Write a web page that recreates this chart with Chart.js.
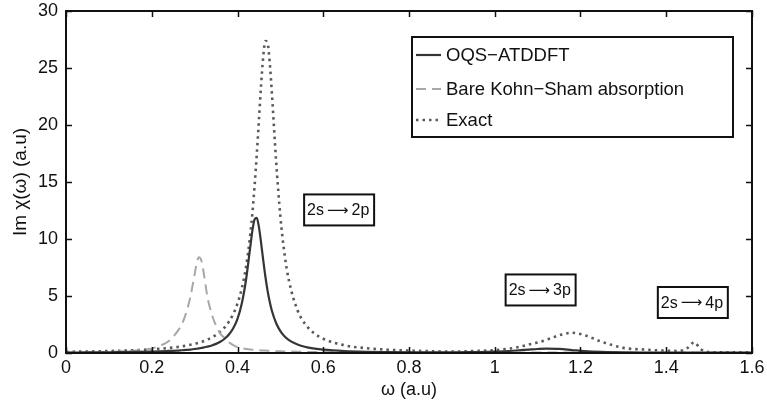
<!DOCTYPE html>
<html>
<head>
<meta charset="utf-8">
<script src="https://cdn.jsdelivr.net/npm/chart.js@4/dist/chart.umd.min.js"></script>
<style>
html,body{margin:0;padding:0;background:#fff;}
#wrap{width:767px;height:405px;position:relative;}
</style>
</head>
<body>
<div id="wrap"><canvas id="c" width="767" height="405"></canvas></div>
<script>
// ---- data ----
const omega = [0, 0.05, 0.1, 0.15, 0.2, 0.22, 0.24, 0.26, 0.27, 0.28, 0.29, 0.3, 0.305, 0.31, 0.315, 0.32, 0.33, 0.34, 0.35, 0.36,
  0.37, 0.38, 0.39, 0.4, 0.41, 0.42, 0.43, 0.435, 0.44, 0.445, 0.45, 0.455, 0.46, 0.465, 0.47, 0.475, 0.48, 0.49, 0.5, 0.51,
  0.52, 0.54, 0.56, 0.58, 0.6, 0.65, 0.7, 0.75, 0.8, 0.85, 0.9, 0.95, 1.0, 1.05, 1.08, 1.1, 1.12, 1.15, 1.18, 1.21,
  1.25, 1.3, 1.35, 1.4, 1.43, 1.45, 1.465, 1.48, 1.5, 1.55, 1.6];
const oqsAtddft = [0.04, 0.05, 0.06, 0.09, 0.13, 0.15, 0.18, 0.21, 0.24, 0.27, 0.30, 0.35, 0.37, 0.41, 0.44, 0.47, 0.56, 0.66, 0.80, 0.99,
  1.25, 1.62, 2.17, 3.0, 4.34, 6.45, 9.37, 10.8, 11.73, 11.85, 11.04, 9.67, 8.14, 6.71, 5.49, 4.51, 3.73, 2.63, 1.92, 1.45,
  1.13, 0.74, 0.52, 0.38, 0.29, 0.17, 0.11, 0.08, 0.06, 0.05, 0.05, 0.08, 0.12, 0.22, 0.30, 0.35, 0.38, 0.36, 0.26, 0.16,
  0.09, 0.05, 0.04, 0.04, 0.04, 0.04, 0.04, 0.04, 0.04, 0.04, 0.04];
const bareKohnSham = [0.04, 0.06, 0.10, 0.18, 0.40, 0.65, 1.05, 1.9, 2.5, 3.5, 4.9, 6.9, 7.9, 8.4, 8.2, 7.3, 4.9, 3.4, 2.4, 1.7,
  1.3, 0.95, 0.70, 0.52, 0.42, 0.36, 0.31, 0.29, 0.27, 0.26, 0.24, 0.23, 0.22, 0.21, 0.20, 0.19, 0.18, 0.16, 0.15, 0.14,
  0.13, 0.11, 0.10, 0.09, 0.08, 0.07, 0.06, 0.05, 0.05, 0.04, 0.04, 0.04, 0.04, 0.05, 0.05, 0.05, 0.05, 0.05, 0.04, 0.04,
  0.04, 0.03, 0.03, 0.03, 0.03, 0.03, 0.03, 0.03, 0.03, 0.03, 0.03];
const exact = [0.11, 0.13, 0.17, 0.23, 0.32, 0.38, 0.44, 0.53, 0.58, 0.65, 0.72, 0.80, 0.85, 0.91, 0.96, 1.03, 1.18, 1.36, 1.59, 1.88,
  2.25, 2.75, 3.42, 4.34, 5.66, 7.58, 10.46, 12.39, 14.73, 17.45, 20.46, 23.48, 25.99, 27.36, 27.2, 25.56, 22.9, 16.88, 11.98, 8.59,
  6.34, 3.75, 2.44, 1.70, 1.25, 0.67, 0.42, 0.29, 0.21, 0.16, 0.12, 0.17, 0.25, 0.48, 0.75, 0.92, 1.15, 1.55, 1.78, 1.55,
  0.98, 0.45, 0.30, 0.20, 0.18, 0.45, 0.94, 0.35, 0.08, 0.06, 0.05];
const seriesNames = ['OQS\u2212ATDDFT', 'Bare Kohn\u2212Sham absorption', 'Exact'];
const xTickValues = [0, 0.2, 0.4, 0.6, 0.8, 1, 1.2, 1.4, 1.6];
const yTickValues = [0, 5, 10, 15, 20, 25, 30];
const transitionFrom = ['2s', '2s', '2s'];
const transitionTo = ['2p', '3p', '4p'];
const transitionOmega = [0.637, 1.107, 1.462];
const transitionHeight = [12.55, 5.53, 4.43];

const FONT = '"Liberation Sans", Arial, Helvetica, sans-serif';
const pts = arr => omega.map((w, i) => ({x: w, y: arr[i]}));

const styles = [
  {color: '#353535', dash: [], width: 2.2},
  {color: '#a8a8a8', dash: [10, 6], width: 2},
  {color: '#5a5a5a', dash: [2.5, 4], width: 2.6}
];
const seriesData = [oqsAtddft, bareKohnSham, exact];

const frame = {
  id: 'frame',
  afterDatasetsDraw(chart) {
    const {ctx, chartArea: a, scales} = chart;
    const xs = scales.x, ys = scales.y;
    ctx.save();
    // ticks inward on all sides
    ctx.strokeStyle = '#111';
    ctx.lineWidth = 1.5;
    const tl = 6;
    ctx.beginPath();
    xTickValues.forEach(v => {
      const px = Math.round(xs.getPixelForValue(v)) + 0.5;
      ctx.moveTo(px, a.bottom); ctx.lineTo(px, a.bottom - tl);
      ctx.moveTo(px, a.top); ctx.lineTo(px, a.top + tl);
    });
    yTickValues.forEach(v => {
      const py = Math.round(ys.getPixelForValue(v)) + 0.5;
      ctx.moveTo(a.left, py); ctx.lineTo(a.left + tl, py);
      ctx.moveTo(a.right, py); ctx.lineTo(a.right - tl, py);
    });
    ctx.stroke();
    // box
    ctx.lineWidth = 2;
    ctx.strokeStyle = '#111';
    ctx.strokeRect(a.left, a.top, a.right - a.left, a.bottom - a.top);

    // annotations
    ctx.textBaseline = 'middle';
    transitionFrom.forEach((f, i) => {
      const cx = xs.getPixelForValue(transitionOmega[i]);
      const cy = ys.getPixelForValue(transitionHeight[i]);
      const w = 70, h = 31;
      ctx.fillStyle = '#fff';
      ctx.fillRect(cx - w / 2, cy - h / 2, w, h);
      ctx.lineWidth = 2;
      ctx.strokeStyle = '#111';
      ctx.strokeRect(cx - w / 2, cy - h / 2, w, h);
      ctx.fillStyle = '#111';
      ctx.textAlign = 'left';
      ctx.font = '16px ' + FONT;
      const x0 = cx - w / 2 + 3;
      ctx.fillText(f, x0, cy + 1);
      const w1 = ctx.measureText(f).width;
      ctx.font = '15px "DejaVu Sans", sans-serif';
      ctx.fillText('\u27f6', x0 + w1 + 3, cy + 1);
      const w2 = ctx.measureText('\u27f6').width;
      ctx.font = '16px ' + FONT;
      ctx.fillText(transitionTo[i], x0 + w1 + w2 + 6, cy + 1);
    });

    // legend
    const lx = a.right - 340, ly = a.top + 26, lw = 321, lh = 100;
    ctx.fillStyle = '#fff';
    ctx.fillRect(lx, ly, lw, lh);
    ctx.lineWidth = 2;
    ctx.strokeStyle = '#111';
    ctx.strokeRect(lx, ly, lw, lh);
    const rows = [ly + 18, ly + 52, ly + 83];
    ctx.font = '18.5px ' + FONT;
    ctx.textAlign = 'left';
    chart.data.datasets.forEach((ds, i) => {
      const y = rows[i];
      ctx.save();
      ctx.strokeStyle = ds.borderColor;
      ctx.lineWidth = ds.borderWidth;
      ctx.setLineDash(ds.borderDash);
      ctx.beginPath();
      ctx.moveTo(lx + 4, y); ctx.lineTo(lx + 29, y);
      ctx.stroke();
      ctx.restore();
      ctx.fillStyle = '#111';
      ctx.fillText(ds.label, lx + 34, y + 1);
    });
    ctx.restore();
  }
};

new Chart(document.getElementById('c'), {
  type: 'line',
  data: {
    datasets: seriesData.map((d, i) => ({
      label: seriesNames[i],
      data: pts(d),
      borderColor: styles[i].color,
      borderDash: styles[i].dash,
      borderWidth: styles[i].width,
      pointRadius: 0,
      fill: false,
      cubicInterpolationMode: 'monotone'
    }))
  },
  options: {
    responsive: false,
    animation: false,
    devicePixelRatio: 1,
    layout: {padding: {top: 11, right: 15, left: 0, bottom: 0}},
    plugins: {legend: {display: false}, tooltip: {enabled: false}},
    scales: {
      x: {
        type: 'linear', min: 0, max: 1.6,
        afterFit(s) { s.height = 52; s.paddingLeft = 0; s.paddingRight = 0; },
        afterBuildTicks(s) { s.ticks = xTickValues.map(v => ({value: v})); },
        grid: {display: false, drawTicks: false},
        border: {display: false},
        ticks: {color: '#111', font: {family: FONT, size: 18}, padding: 4, maxRotation: 0,
          callback: v => String(v)},
        title: {display: true, text: '\u03c9 (a.u)', color: '#111', font: {family: FONT, size: 18}, padding: {top: 0}}
      },
      y: {
        type: 'linear', min: 0, max: 30,
        afterFit(s) { s.width = 66; s.paddingTop = 0; s.paddingBottom = 0; },
        afterBuildTicks(s) { s.ticks = yTickValues.map(v => ({value: v})); },
        grid: {display: false, drawTicks: false},
        border: {display: false},
        ticks: {color: '#111', font: {family: FONT, size: 18}, padding: 8, callback: v => String(v)},
        title: {display: true, text: 'Im \u03c7(\u03c9) (a.u)', color: '#111', font: {family: FONT, size: 19}, padding: {top: 9, bottom: 4}}
      }
    }
  },
  plugins: [frame]
});
</script>
</body>
</html>
